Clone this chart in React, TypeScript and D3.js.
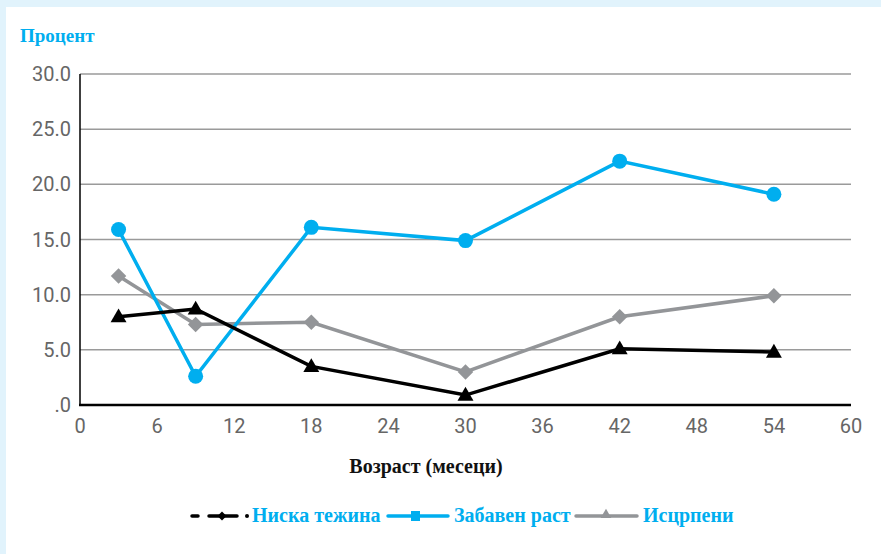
import React from "react";
import * as d3 from "d3";

const ages = [3, 9, 18, 30, 42, 54];
const niskaTezina = [8.0, 8.7, 3.5, 0.9, 5.1, 4.8];
const zabavenRast = [15.9, 2.6, 16.1, 14.9, 22.1, 19.1];
const iscrpeni = [11.7, 7.3, 7.5, 3.0, 8.0, 9.9];
const yTicks = [0, 5, 10, 15, 20, 25, 30];
const xTicks = [0, 6, 12, 18, 24, 30, 36, 42, 48, 54, 60];
const seriesNames = ["Ниска тежина", "Забавен раст", "Исцрпени"];

const W = 881;
const H = 554;
const BLUE = "#00aeef";
const GRAY = "#939598";
const SERIF = "'Liberation Serif', 'DejaVu Serif', serif";
const SANS = "Roboto, 'Liberation Sans', sans-serif";

export default function App() {
  const x = d3.scaleLinear().domain([0, 60]).range([80, 851]);
  const y = d3.scaleLinear().domain([0, 30]).range([405, 74]);
  const line = d3
    .line<number>()
    .x((_, i) => x(ages[i]))
    .y((d) => y(d));
  const fmt = (v: number) => (v === 0 ? ".0" : v.toFixed(1));
  const tri = d3.symbol().type(d3.symbolTriangle).size(110)();
  const dia = d3.symbol().type(d3.symbolSquare).size(120)();

  return (
    <>
      <style>{`body{margin:0}`}</style>
      <svg width={W} height={H} style={{ display: "block" }}>
        <rect x={0} y={0} width={W} height={H} fill="#e1f3fc" />
        <rect x={6} y={7} width={W - 6} height={H - 7} fill="#ffffff" />
        <text x={20} y={42} fill={BLUE} fontFamily={SERIF} fontWeight="bold" fontSize={19}>
          Процент
        </text>
        {yTicks.map((t) => (
          <g key={"y" + t}>
            {t > 0 && (
              <line x1={80} x2={851} y1={y(t)} y2={y(t)} stroke="#9a9a9a" strokeWidth={1.5} />
            )}
            <text
              x={71}
              y={y(t)}
              dy="0.35em"
              textAnchor="end"
              fill="#666"
              fontFamily={SANS}
              fontSize={20}
            >
              {fmt(t)}
            </text>
          </g>
        ))}
        {xTicks.map((t) => (
          <text
            key={"x" + t}
            x={x(t)}
            y={433}
            textAnchor="middle"
            fill="#666"
            fontFamily={SANS}
            fontSize={20}
          >
            {t}
          </text>
        ))}
        <line x1={80} x2={80} y1={74} y2={406} stroke="#000" strokeWidth={1.5} />
        <line x1={79} x2={851} y1={405} y2={405} stroke="#000" strokeWidth={2.5} />

        {/* Исцрпени */}
        <path d={line(iscrpeni) || ""} fill="none" stroke={GRAY} strokeWidth={3.5} />
        {iscrpeni.map((v, i) => (
          <path
            key={"g" + i}
            d={dia || ""}
            transform={`translate(${x(ages[i])},${y(v)}) rotate(45)`}
            fill={GRAY}
          />
        ))}
        {/* Забавен раст */}
        <path d={line(zabavenRast) || ""} fill="none" stroke={BLUE} strokeWidth={3.5} />
        {zabavenRast.map((v, i) => (
          <circle key={"b" + i} cx={x(ages[i])} cy={y(v)} r={7.5} fill={BLUE} />
        ))}
        {/* Ниска тежина */}
        <path d={line(niskaTezina) || ""} fill="none" stroke="#000" strokeWidth={3.5} />
        {niskaTezina.map((v, i) => (
          <path
            key={"k" + i}
            d={tri || ""}
            transform={`translate(${x(ages[i])},${y(v) + 1})`}
            fill="#000"
          />
        ))}

        <text
          x={426}
          y={473}
          textAnchor="middle"
          fill="#111"
          fontFamily={SERIF}
          fontWeight="bold"
          fontSize={20}
        >
          Возраст (месеци)
        </text>

        {/* Legend */}
        <g>
          <line x1={192} x2={198} y1={516} y2={516} stroke="#000" strokeWidth={3.5} strokeLinecap="round" />
          <line x1={209} x2={237} y1={516} y2={516} stroke="#000" strokeWidth={3.5} strokeLinecap="round" />
          <path d={d3.symbol().type(d3.symbolSquare).size(40)() || ""} transform="translate(222,516) rotate(45)" fill="#000" />
          <circle cx={247} cy={516} r={2} fill="#000" />
          <text x={252} y={522} fill={BLUE} fontFamily={SERIF} fontWeight="bold" fontSize={20}>
            {seriesNames[0]}
          </text>
          <line x1={388} x2={448} y1={516} y2={516} stroke={BLUE} strokeWidth={3.5} strokeLinecap="round" />
          <rect x={411} y={511} width={9} height={10} fill={BLUE} />
          <text x={454} y={522} fill={BLUE} fontFamily={SERIF} fontWeight="bold" fontSize={20}>
            {seriesNames[1]}
          </text>
          <line x1={576} x2={637} y1={516} y2={516} stroke={GRAY} strokeWidth={3.5} strokeLinecap="round" />
          <path d={d3.symbol().type(d3.symbolTriangle).size(50)() || ""} transform="translate(606,515)" fill={GRAY} />
          <text x={643} y={522} fill={BLUE} fontFamily={SERIF} fontWeight="bold" fontSize={20}>
            {seriesNames[2]}
          </text>
        </g>
      </svg>
    </>
  );
}
